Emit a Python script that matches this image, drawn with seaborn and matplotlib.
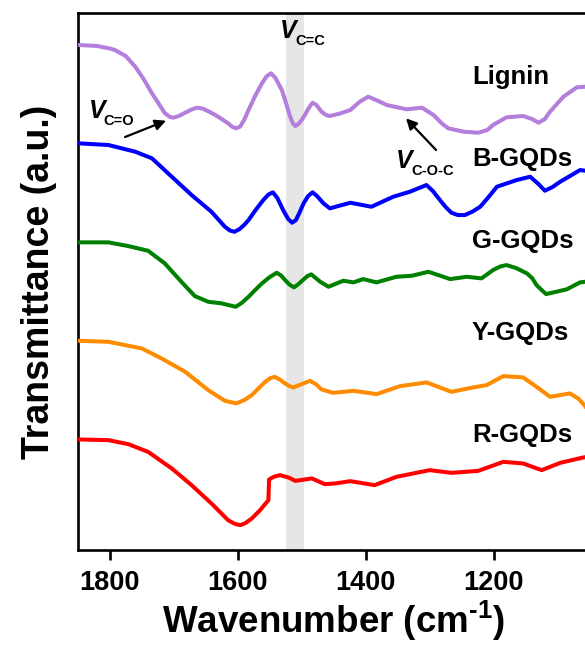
import numpy as np
import pandas as pd
import matplotlib
matplotlib.use("Agg")
import matplotlib.pyplot as plt
import seaborn as sns

# ---- data (stacked transmittance, a.u.) ----
lignin_wn = [1849, 1820, 1800, 1792, 1775, 1760, 1747, 1734, 1722, 1714, 1707, 1701, 1692, 1682,
             1672, 1664, 1655, 1645, 1635, 1625, 1615, 1608, 1602, 1596, 1590, 1583, 1572, 1562,
             1555, 1548, 1541, 1531, 1524, 1518, 1514, 1510, 1505, 1500, 1495, 1489, 1483, 1477,
             1469, 1462, 1456, 1440, 1424, 1410, 1396, 1382, 1367, 1336, 1312, 1294,
             1280, 1271, 1247, 1224, 1210, 1201, 1180, 1154, 1140, 1130, 1120, 1112, 1091, 1070, 1057, 1050]
lignin_t = [505, 504, 501.5, 500, 494, 483.3, 471, 456.7, 445, 437, 433.5, 432.3, 434, 437.3,
            440.5, 442.3, 441.5, 438.5, 435, 431, 426.7, 423, 421.7, 423.5, 430, 440, 455, 466.7,
            473.5, 476.7, 472, 460, 446, 433.3, 427, 424, 426, 430, 435, 442, 447.3, 445,
            438.3, 435, 434, 436.5, 440, 448, 453.3, 449.5, 445, 440.7, 442.3, 435,
            426, 421.7, 418.3, 417.3, 420, 425, 432.7, 434, 431, 427.3, 431, 438.3, 453.3, 462.7, 463.3, 462]

bgqd_wn = [1849, 1802, 1760, 1734, 1703, 1672, 1641, 1620, 1612, 1605, 1597, 1590, 1583, 1572,
           1560, 1552, 1545, 1538, 1529, 1521, 1515, 1509, 1503, 1497, 1490, 1483, 1476, 1466,
           1456, 1424, 1391, 1357, 1331, 1305, 1295, 1284, 1275, 1266, 1256, 1245, 1233, 1221,
           1208, 1195, 1164, 1143, 1130, 1120, 1108, 1096, 1065, 1057, 1050]
bgqd_t = [406.7, 405, 398.3, 391.7, 373.3, 355, 338.3, 323.3, 319.5, 318.3, 321, 325, 330, 340,
          350, 355.5, 357.7, 352, 340, 331, 327.3, 330, 338, 346.7, 354, 357.7, 354, 346.7,
          341.7, 347.3, 343.3, 353.3, 358.3, 365, 359, 350, 343, 337.3, 335, 335, 338.5, 343.3,
          353, 363.3, 370, 373.3, 366, 359.3, 363, 368.3, 380, 379.3, 378]

ggqd_wn = [1849, 1802, 1771, 1740, 1714, 1688, 1667, 1646, 1625, 1603, 1594, 1583, 1572, 1562,
           1550, 1539, 1532, 1526, 1519, 1512, 1505, 1497, 1491, 1485, 1478, 1471, 1458, 1448,
           1435, 1419, 1404, 1383, 1352, 1328, 1302, 1268, 1242, 1219, 1201, 1190, 1180, 1165,
           1148, 1140, 1133, 1125, 1118, 1086, 1065, 1057, 1050]
ggqd_t = [307.7, 307.7, 304, 299.3, 286.7, 268.3, 254, 248.3, 246.7, 243.3, 247, 253.3, 260.5, 266.7,
          273, 277.3, 274.5, 270, 265.5, 262.7, 266, 270.7, 274, 275.7, 272, 268.3, 263.3, 266,
          269.3, 267.7, 271, 267.7, 273.3, 274.3, 278.3, 271, 273.3, 271.7, 280, 283.5, 285, 282,
          276.7, 272, 265, 260, 256, 260.7, 267.7, 268.3, 269]

ygqd_wn = [1849, 1802, 1750, 1719, 1682, 1646, 1620, 1602, 1590, 1578, 1567, 1557, 1549, 1542,
           1534, 1526, 1519, 1513, 1500, 1487, 1478, 1469, 1451, 1419, 1383, 1346, 1305, 1266,
           1232, 1211, 1185, 1154, 1133, 1112, 1081, 1068, 1057, 1050]
ygqd_t = [209.3, 208.3, 201.7, 191.7, 178.3, 160, 149.3, 146.7, 150, 155, 162, 168.3, 172, 173.3,
          170.5, 166.7, 164, 162.7, 166, 169.3, 166, 160.7, 157.3, 159.3, 156, 164, 167.7, 158.3,
          162.7, 165, 174, 172.7, 163.3, 153.3, 156.7, 151.7, 144, 136]

rgqd_wn = [1849, 1802, 1771, 1740, 1703, 1672, 1641, 1615, 1605, 1596, 1588, 1578, 1565, 1552,
           1551, 1543, 1534, 1520, 1510, 1497, 1484, 1464, 1448, 1424, 1386, 1352, 1300, 1266,
           1224, 1185, 1154, 1125, 1096, 1060, 1050]
rgqd_t = [110.7, 110, 106, 98.3, 81.7, 65, 46.7, 30, 26.5, 25, 27, 31.7, 40, 50,
          70.7, 73.5, 75, 72.5, 69.3, 70.5, 71.7, 66, 66.7, 69, 65, 73.3, 80, 77.3,
          79.3, 88.3, 86.7, 80, 87.3, 92.7, 93.5]

names = ["Lignin", "B-GQDs", "G-GQDs", "Y-GQDs", "R-GQDs"]
colors = ["#b57ddc", "#0000ff", "#008000", "#ff8c00", "#ff0000"]
label_wn = [1234, 1234, 1234, 1234, 1234]
label_t = [465.7, 384, 301.7, 210, 108.3]

band = (1524, 1497)
xticks = [1800, 1600, 1400, 1200]

# ---- style ----
sns.set_theme(style="ticks")
plt.rcParams["font.family"] = ["Liberation Sans", "DejaVu Sans"]
plt.rcParams["font.weight"] = "bold"
plt.rcParams["text.color"] = "black"
plt.rcParams["axes.labelcolor"] = "black"
plt.rcParams["xtick.color"] = "black"
plt.rcParams["ytick.color"] = "black"
plt.rcParams["mathtext.fontset"] = "custom"
plt.rcParams["mathtext.rm"] = "Liberation Sans:bold"
plt.rcParams["mathtext.bf"] = "Liberation Sans:bold"
plt.rcParams["mathtext.it"] = "Liberation Sans:italic:bold"

fig = plt.figure(figsize=(5.85, 6.45), dpi=100)
ax = fig.add_axes([0.1328, 0.1470, 0.8752, 0.8329])

ax.axvspan(band[0], band[1], color="#e6e6e6", lw=0, zorder=0)

series = [(lignin_wn, lignin_t), (bgqd_wn, bgqd_t), (ggqd_wn, ggqd_t),
          (ygqd_wn, ygqd_t), (rgqd_wn, rgqd_t)]
for (wn, t), name, c in zip(series, names, colors):
    df = pd.DataFrame({"wn": wn, "t": t})
    sns.lineplot(data=df, x="wn", y="t", ax=ax, color=c, lw=2.9, sort=False,
                 estimator=None, zorder=3)
    ax.lines[-1].set_solid_joinstyle("round")
    ax.lines[-1].set_solid_capstyle("round")

for name, x, y in zip(names, label_wn, label_t):
    ax.text(x, y, name, fontsize=18.5, fontweight="bold", ha="left", va="baseline")


def vlabel(x, y, sub):
    ax.text(x, y, "V", fontsize=18, fontstyle="italic", fontweight="bold",
            ha="left", va="baseline")
    ax.annotate(sub, xy=(x, y), xytext=(11, -4.5), textcoords="offset points",
                fontsize=10.5, fontweight="bold", ha="left", va="baseline")


vlabel(1833, 431.7, "C=O")
vlabel(1534, 511.7, "C=C")
vlabel(1352, 381.7, "C-O-C")

arrow = dict(arrowstyle="-|>", color="black", lw=1.6, mutation_scale=16, shrinkA=0, shrinkB=0)
ax.annotate("", xy=(1712, 429.3), xytext=(1776, 413), arrowprops=arrow)
ax.annotate("", xy=(1337, 431.7), xytext=(1290, 400), arrowprops=arrow)

ax.set_xlim(1850, 1050)
ax.set_ylim(0.0, 537)
ax.set_xticks(xticks)
ax.set_xticklabels([str(v) for v in xticks])
ax.set_yticks([])
ax.tick_params(axis="x", direction="out", length=7, width=1.9, labelsize=19.5, pad=7.5)
for lab in ax.get_xticklabels():
    lab.set_fontweight("bold")
for s in ax.spines.values():
    s.set_linewidth(1.9)
    s.set_color("black")
ax.set_xlabel("Wavenumber (cm$^{\\mathbf{\u20101}}$)", fontsize=26.5, fontweight="bold", labelpad=2)
ax.set_ylabel("Transmittance (a.u.)", fontsize=27, fontweight="bold", labelpad=15)

fig.savefig("out.png", dpi=100)
